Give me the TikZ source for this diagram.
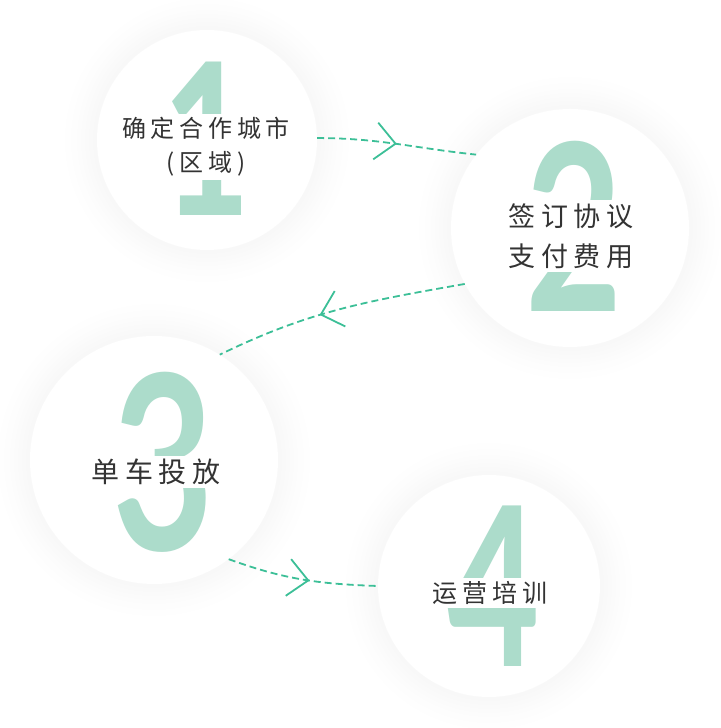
\documentclass[tikz,border=0pt]{standalone}
\usepackage{fontspec}
\newfontfamily\cjk[LetterSpace=20]{Noto Sans CJK SC}
\newfontfamily\digits{Lato}
\usetikzlibrary{arrows.meta,decorations.markings}
\definecolor{mint}{HTML}{ACDCCB}
\definecolor{flow}{HTML}{3CBF97}
\definecolor{ink}{HTML}{333333}
\newcommand\capfont[2]{\cjk\fontsize{#1}{#2}\selectfont}
\newcommand\digitfont[1]{\digits\bfseries\fontsize{#1}{#1}\selectfont}
\begin{document}
\begin{tikzpicture}[x=1pt, y=1pt,
    stage/.style={circle, fill=white, inner sep=0pt},
    num/.style={text=mint, inner sep=0pt, xscale=.72, transform shape},
    caption/.style={fill=white, text=ink, inner sep=3pt, align=center},
    flowline/.style={draw=flow, line width=1.8pt, dash pattern=on 7pt off 4pt,
        postaction={decorate},
        decoration={markings, mark=at position #1 with
            {\arrow{Straight Barb[length=20pt, width=37pt, line width=1.8pt]}}}},
    flowline/.default=.5]
    \useasboundingbox (0,0) rectangle (720,728);
    % centres of the four steps
    \coordinate (p1) at (207,588);
    \coordinate (p2) at (570,500);
    \coordinate (p3) at (154,268);
    \coordinate (p4) at (489,142);
    % soft shadow round each circle
    \foreach \p/\r in {p1/110, p2/119, p3/124, p4/111}
        \foreach \d in {4,8,12,16,20,26,32}
            \fill[black, opacity=.005] (\p) circle[radius={(\r+\d)*1pt}];
    \node[stage, minimum size=220pt] (c1) at (p1) {};
    \node[stage, minimum size=238pt] (c2) at (p2) {};
    \node[stage, minimum size=248pt] (c3) at (p3) {};
    \node[stage, minimum size=222pt] (c4) at (p4) {};
    % big step numbers
    \node[num, font=\digitfont{212}] (n1) at (207,589) {1};
    \node[num, font=\digitfont{233}] (n2) at (574,502) {2};
    \node[num, font=\digitfont{244}] (n3) at (163,266) {3};
    \node[num, font=\digitfont{222}] (n4) at (494,142) {4};
    % captions
    \node[caption, font=\capfont{24}{34}] (t1) at (206,581) {确定合作城市\\(区域)};
    \node[caption, font=\capfont{27}{40}] (t2) at (571,492) {签订协议\\支付费用};
    \node[caption, font=\capfont{28}{34}] (t3) at (156,256) {单车投放};
    \node[caption, font=\capfont{25}{34}] (t4) at (490,135) {运营培训};
    % flow between steps
    \draw[flowline] (c1.1) to[out=0, in=174] (c2.142);
    \draw[flowline=.58] (c2.208) to[out=190, in=26] (c3.58);
    \draw[flowline=.55] (c3.-53) to[out=-20, in=178] (c4.180);
\end{tikzpicture}
\end{document}
